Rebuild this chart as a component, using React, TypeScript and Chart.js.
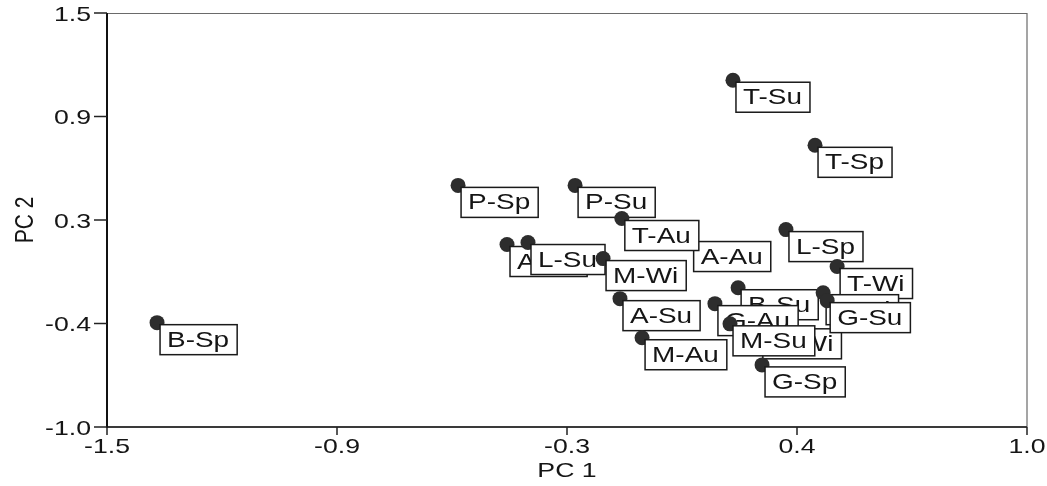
import React, { useEffect, useRef } from "react";
import { Chart, registerables } from "chart.js";

Chart.register(...registerables);

// Sample scores on the first two principal components, in drawing order
const sampleLabels = [
  "B-Sp", "P-Sp", "P-Su", "T-Su", "T-Sp", "A-Au", "T-Au", "A-Sp", "L-Su", "M-Wi",
  "L-Sp", "T-Wi", "A-Su", "M-Au", "B-Su", "G-Wi", "G-Au", "M-Su", "G-Sp", "L-Wi", "G-Su",
];
const pc1 = [
  -1.364, -0.546, -0.228, 0.201, 0.424, 0.086, -0.101, -0.413, -0.356, -0.152,
  0.345, 0.484, -0.106, -0.046, 0.215, 0.274, 0.152, 0.193, 0.28, 0.446, 0.457,
];
const pc2 = [
  -0.37, 0.459, 0.459, 1.094, 0.701, 0.132, 0.259, 0.102, 0.114, 0.017,
  0.192, -0.031, -0.225, -0.461, -0.159, -0.395, -0.255, -0.377, -0.625, -0.189, -0.237,
];

const xTickValues = [-1.5, -0.875, -0.25, 0.375, 1.0];
const xTickLabels = ["-1.5", "-0.9", "-0.3", "0.4", "1.0"];
const yTickValues = [-1.0, -0.375, 0.25, 0.875, 1.5];
const yTickLabels = ["-1.0", "-0.4", "0.3", "0.9", "1.5"];

const xTitle = "PC 1";
const yTitle = "PC 2";

const FONT = '"Liberation Sans", Arial, Helvetica, sans-serif';
const STRETCH = 1.27;
const TEXT_COLOR = "#151515";

function drawWideText(
  ctx: CanvasRenderingContext2D,
  text: string,
  x: number,
  y: number,
  align: "left" | "center" | "right",
  size: number
): number {
  ctx.save();
  ctx.font = `${size}px ${FONT}`;
  ctx.textBaseline = "middle";
  ctx.textAlign = "left";
  const w = ctx.measureText(text).width * STRETCH;
  let left = x;
  if (align === "center") left = x - w / 2;
  else if (align === "right") left = x - w;
  ctx.translate(left, y);
  ctx.scale(STRETCH, 1);
  ctx.fillStyle = TEXT_COLOR;
  ctx.fillText(text, 0, 0);
  ctx.restore();
  return w;
}

// Frame, tick marks, tick labels and axis titles
const axesPlugin = {
  id: "pcaAxes",
  beforeDatasetsDraw(chart: any) {
    const ctx: CanvasRenderingContext2D = chart.ctx;
    const xs = chart.scales.x;
    const ys = chart.scales.y;
    const { left, right, top, bottom } = chart.chartArea;
    ctx.save();
    // top and right frame
    ctx.strokeStyle = "#6a6a6a";
    ctx.lineWidth = 1.2;
    ctx.beginPath();
    ctx.moveTo(left, top + 0.5);
    ctx.lineTo(right, top + 0.5);
    ctx.moveTo(right, top);
    ctx.lineTo(right, bottom);
    ctx.stroke();
    // bottom axis
    ctx.strokeStyle = "#3a3a3a";
    ctx.lineWidth = 2;
    ctx.beginPath();
    ctx.moveTo(left, bottom);
    ctx.lineTo(right, bottom);
    ctx.stroke();
    // left axis
    ctx.strokeStyle = "#111";
    ctx.lineWidth = 2;
    ctx.beginPath();
    ctx.moveTo(left, top);
    ctx.lineTo(left, bottom + 1);
    ctx.stroke();

    ctx.lineWidth = 1.5;
    ctx.strokeStyle = "#222";
    xTickValues.forEach((v, i) => {
      const px = xs.getPixelForValue(v);
      ctx.beginPath();
      ctx.moveTo(px, bottom);
      ctx.lineTo(px, bottom + 8);
      ctx.stroke();
      drawWideText(ctx, xTickLabels[i], px, bottom + 20, "center", 21);
    });
    yTickValues.forEach((v, i) => {
      const py = ys.getPixelForValue(v);
      ctx.beginPath();
      ctx.moveTo(left - 13, py);
      ctx.lineTo(left, py);
      ctx.stroke();
      drawWideText(ctx, yTickLabels[i], left - 16, py + 2, "right", 21);
    });

    drawWideText(ctx, xTitle, (left + right) / 2, bottom + 44, "center", 21);

    // rotated y title
    ctx.save();
    ctx.font = `21px ${FONT}`;
    ctx.translate(26, (top + bottom) / 2);
    ctx.scale(STRETCH, 1);
    ctx.rotate(-Math.PI / 2);
    ctx.textAlign = "center";
    ctx.textBaseline = "middle";
    ctx.fillStyle = TEXT_COLOR;
    ctx.fillText(yTitle, 0, 0);
    ctx.restore();

    ctx.restore();
  },
};

// Boxed sample name, drawn right after its own point
const boxLabelPlugin = {
  id: "boxLabels",
  afterDatasetDraw(chart: any, args: any) {
    const ctx: CanvasRenderingContext2D = chart.ctx;
    const el = args.meta.data[0];
    if (!el) return;
    const text = chart.data.datasets[args.index].label as string;
    ctx.save();
    ctx.font = `22px ${FONT}`;
    const tw = ctx.measureText(text).width * STRETCH;
    const bx = el.x + 3;
    const by = el.y + 2;
    const bw = tw + 15;
    const bh = 30;
    ctx.fillStyle = "#ffffff";
    ctx.fillRect(bx, by, bw, bh);
    ctx.strokeStyle = "#1a1a1a";
    ctx.lineWidth = 1.5;
    ctx.strokeRect(bx, by, bw, bh);
    ctx.restore();
    drawWideText(ctx, text, bx + 7, by + bh / 2 + 1, "left", 22);
  },
};

export default function App() {
  const canvasRef = useRef<HTMLCanvasElement | null>(null);

  useEffect(() => {
    const canvas = canvasRef.current;
    if (!canvas) return;
    const n = sampleLabels.length;
    const chart = new Chart(canvas, {
      type: "scatter",
      data: {
        datasets: sampleLabels.map((name, i) => ({
          label: name,
          data: [{ x: pc1[i], y: pc2[i] }],
          order: n - i,
          pointRadius: 7.5,
          pointHoverRadius: 7.5,
          pointBackgroundColor: "#2d2d2d",
          pointBorderColor: "#2d2d2d",
          pointBorderWidth: 0,
          showLine: false,
        })),
      },
      options: {
        responsive: false,
        animation: false,
        devicePixelRatio: 1,
        layout: { padding: { left: 107, right: 20, top: 13, bottom: 59 } },
        scales: {
          x: { type: "linear", display: false, min: -1.5, max: 1.0 },
          y: { type: "linear", display: false, min: -1.0, max: 1.5 },
        },
        plugins: {
          legend: { display: false },
          tooltip: { enabled: false },
        },
        events: [],
      },
      plugins: [axesPlugin, boxLabelPlugin],
    });
    return () => chart.destroy();
  }, []);

  return (
    <div style={{ position: "fixed", left: 0, top: 0, width: 1047, height: 486, background: "#fff" }}>
      <canvas ref={canvasRef} width={1047} height={486} style={{ display: "block", width: 1047, height: 486 }} />
    </div>
  );
}
